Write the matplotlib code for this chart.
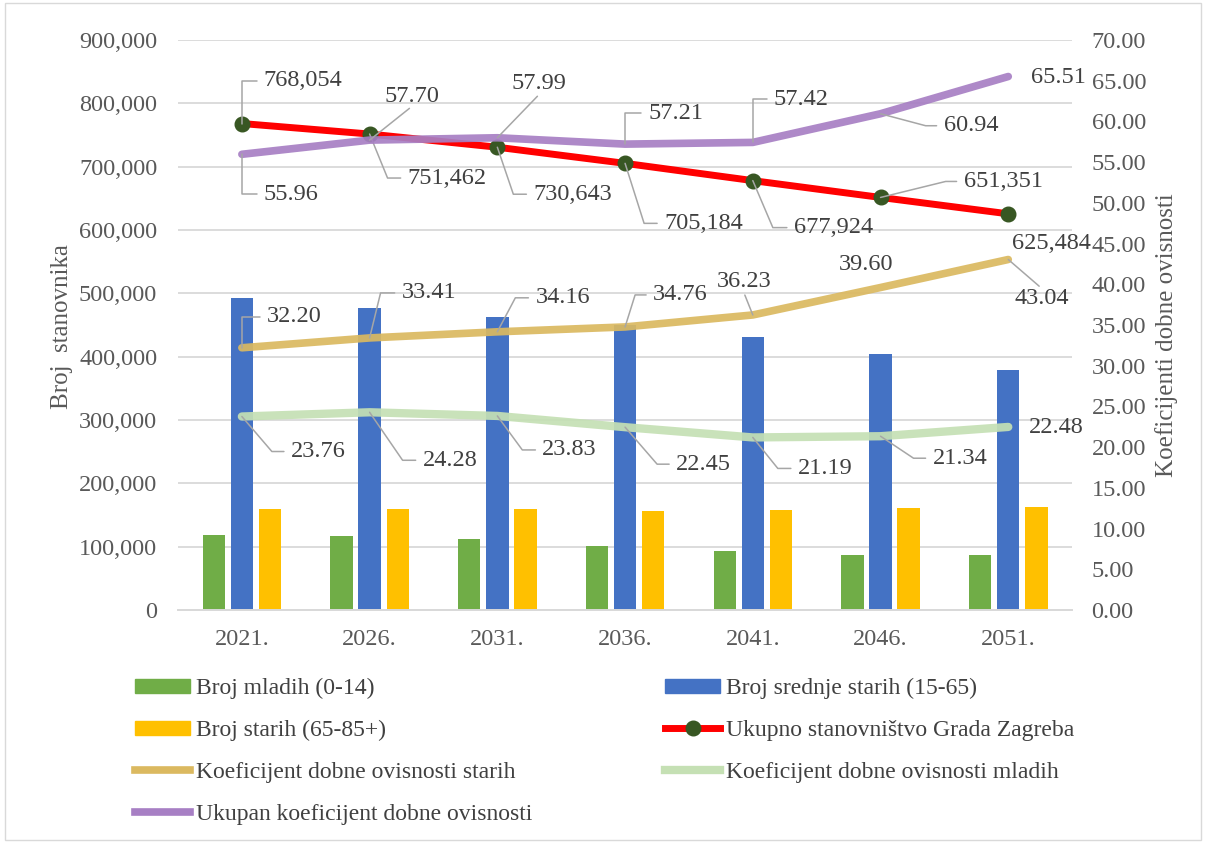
import numpy as np
import matplotlib
matplotlib.use('Agg')
from matplotlib import pyplot as plt
from matplotlib.lines import Line2D
from matplotlib.patches import Patch, Rectangle
from matplotlib.ticker import FuncFormatter, MultipleLocator

plt.rcParams['font.family'] = ['Liberation Serif', 'DejaVu Serif']

years = ['2021.', '2026.', '2031.', '2036.', '2041.', '2046.', '2051.']
mladi = [118000, 116400, 111600, 101000, 92600, 87400, 86300]
srednji = [492600, 476300, 463200, 449500, 430500, 404700, 379000]
stari = [159000, 159500, 159000, 156800, 157400, 161000, 163100]
ukupno = [768054, 751462, 730643, 705184, 677924, 651351, 625484]
koef_stari = [32.20, 33.41, 34.16, 34.76, 36.23, 39.60, 43.04]
koef_mladi = [23.76, 24.28, 23.83, 22.45, 21.19, 21.34, 22.48]
koef_ukupno = [55.96, 57.70, 57.99, 57.21, 57.42, 60.94, 65.51]

# label placement (pixels): (dx, dy, kind, elbow dx)
pos_ukupno = [(22, 43, 'elbow', 0), (38, -44, 'elbow', 18), (36, -47, 'elbow', 16),
              (39, -60, 'elbow', 19), (41, -47, 'elbow', 20), (83, 16, 'elbow', 65),
              (4, -30, 'none', 0)]
pos_kukupno = [(22, -40, 'elbow', 0), (42, 44, 'up', 0), (42, 54, 'up', 0),
               (23, 31, 'elbow', 0), (21, 43, 'elbow', 0), (63, -12, 'elbow', 45),
               (23, -1, 'none', 0)]
pos_kstari = [(25, 31, 'elbow', 0), (32, 45, 'elbow', 11), (38, 34, 'elbow', 18),
              (28, 32, 'elbow', 10), (-9, 33, 'up', 0), (-42, 23, 'none', 0),
              (33, -39, 'down', 0)]
pos_kmladi = [(49, -35, 'elbow', 30), (53, -48, 'elbow', 33), (45, -34, 'elbow', 25),
              (51, -37, 'elbow', 32), (45, -31, 'elbow', 25), (52, -22, 'elbow', 33),
              (21, -1, 'none', 0)]

txt_col = '#404040'
tick_col = '#595959'
lead_col = '#a6a6a6'
fs = 17.5

fig = plt.figure(figsize=(12.06, 8.43), dpi=100)
ax = fig.add_axes([0.1476, 0.2764, 0.7414, 0.6762])
ax2 = ax.twinx()

x = np.arange(len(years))
w = 0.175
ax.bar(x - 0.22, mladi, w, color='#70ad47', zorder=2)
ax.bar(x, srednji, w, color='#4472c4', zorder=2)
ax.bar(x + 0.22, stari, w, color='#ffc000', zorder=2)
ax.plot(x, ukupno, color='#ff0000', lw=5, zorder=3, solid_capstyle='round',
        marker='o', ms=10.5, mfc='#385723', mec='#385723')

ax2.plot(x, koef_stari, color='#dbb960', lw=5.5, solid_capstyle='round', alpha=0.92)
ax2.plot(x, koef_mladi, color='#c5e0b4', lw=6, solid_capstyle='round', alpha=0.92)
ax2.plot(x, koef_ukupno, color='#a77fc4', lw=5.5, solid_capstyle='round', alpha=0.92)

ax.set_xlim(-0.5, len(years) - 0.5)
ax.set_ylim(0, 900000)
ax2.set_ylim(0, 70)
ax.yaxis.set_major_locator(MultipleLocator(100000))
ax2.yaxis.set_major_locator(MultipleLocator(5))
ax.yaxis.set_major_formatter(FuncFormatter(lambda v, p: f'{v:,.0f}'))
ax2.yaxis.set_major_formatter(FuncFormatter(lambda v, p: f'{v:.2f}'))
ax.set_xticks(x)
ax.set_xticklabels(years)
ax.grid(axis='y', color='#d9d9d9', lw=1.3, zorder=0)
ax.set_axisbelow(True)
for a in (ax, ax2):
    for s in ('top', 'left', 'right'):
        a.spines[s].set_visible(False)
    a.spines['bottom'].set_color('#d9d9d9')
    a.spines['bottom'].set_linewidth(1.3)
    a.tick_params(length=0, labelsize=fs, labelcolor=tick_col)
ax.tick_params(axis='y', pad=15)
ax2.tick_params(axis='y', pad=14)
ax.tick_params(axis='x', pad=14)

fig.text(62 / 1206, 1 - 327 / 843, 'Broj  stanovnika', rotation=90, fontsize=18,
         color=tick_col, ha='center', va='center')
fig.text(1167 / 1206, 1 - 335 / 843, 'Koeficijenti dobne ovisnosti', rotation=90,
         fontsize=18, color=tick_col, ha='center', va='center')


def put_labels(a, vals, fmt, layout):
    for i, (v, (dx, dy, kind, edx)) in enumerate(zip(vals, layout)):
        s = fmt(v)
        if kind == 'none':
            a.annotate(s, (i, v), xytext=(dx, dy), textcoords='offset pixels',
                       ha='left', va='center', fontsize=fs, color=txt_col, zorder=6)
        elif kind == 'elbow':
            ang = np.degrees(np.arctan2(dy, edx))
            a.annotate(s, (i, v), xytext=(dx, dy), textcoords='offset pixels',
                       ha='left', va='center', fontsize=fs, color=txt_col, zorder=6,
                       arrowprops=dict(arrowstyle='-', color=lead_col, lw=1.1,
                                       patchA=None, shrinkA=5, shrinkB=0,
                                       relpos=(0, 0.5),
                                       connectionstyle=f'angle,angleA=0,angleB={ang:.1f},rad=0'))
        else:
            rp = (0.5, 0) if kind == 'up' else (0.5, 1)
            a.annotate(s, (i, v), xytext=(dx, dy), textcoords='offset pixels',
                       ha='center', va='center', fontsize=fs, color=txt_col, zorder=6,
                       arrowprops=dict(arrowstyle='-', color=lead_col, lw=1.1,
                                       patchA=None, shrinkA=2, shrinkB=0,
                                       relpos=rp))


put_labels(ax, ukupno, lambda v: f'{v:,.0f}', pos_ukupno)
put_labels(ax2, koef_ukupno, lambda v: f'{v:.2f}', pos_kukupno)
put_labels(ax2, koef_stari, lambda v: f'{v:.2f}', pos_kstari)
put_labels(ax2, koef_mladi, lambda v: f'{v:.2f}', pos_kmladi)

handles = [
    Patch(color='#70ad47', label='Broj mladih (0-14)'),
    Patch(color='#ffc000', label='Broj starih (65-85+)'),
    Line2D([], [], color='#dbb960', lw=5.5, label='Koeficijent dobne ovisnosti starih'),
    Line2D([], [], color='#a77fc4', lw=5.5, label='Ukupan koeficijent dobne ovisnosti'),
    Patch(color='#4472c4', label='Broj srednje starih (15-65)'),
    Line2D([], [], color='#ff0000', lw=5, marker='o', ms=10.5, mfc='#385723',
           mec='#385723', label='Ukupno stanovništvo Grada Zagreba'),
    Line2D([], [], color='#c5e0b4', lw=6, label='Koeficijent dobne ovisnosti mladih'),
]
leg = fig.legend(handles=handles, ncol=2, loc='upper left',
                 bbox_to_anchor=(135 / 1206, 1 - 678 / 843), frameon=False,
                 fontsize=17, handlelength=2.35, handleheight=0.55, handletextpad=0.25,
                 columnspacing=5.6, labelspacing=0.88, borderpad=0, borderaxespad=0)
for t in leg.get_texts():
    t.set_color(txt_col)

fig.patches.append(Rectangle((0.004, 0.004), 0.992, 0.992, transform=fig.transFigure,
                             fill=False, edgecolor='#d9d9d9', lw=1))

fig.savefig('out.png', dpi=100)
